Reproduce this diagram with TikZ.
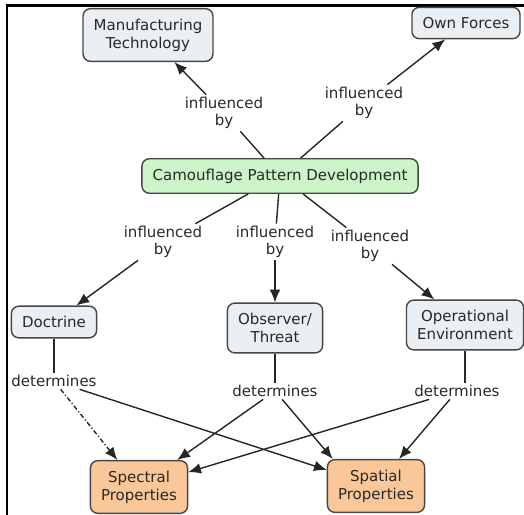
\documentclass[tikz,border=0pt]{standalone}
\usepackage{fontspec}
\setmainfont{DejaVu Sans}
\usepackage{xcolor}
\usepackage{tikz}
\usetikzlibrary{arrows.meta}

\definecolor{conceptfill}{RGB}{234,239,243}
\definecolor{topfill}{RGB}{204,244,200}
\definecolor{propfill}{RGB}{250,200,152}
\definecolor{edgegray}{RGB}{70,70,70}
\definecolor{textgray}{RGB}{40,40,40}

\begin{document}
\begin{tikzpicture}[x=0.03cm,y=-0.03cm,
    concept/.style={draw=edgegray,line width=1.2pt,rounded corners=0.22cm,fill=conceptfill,
        align=center,inner xsep=0.32cm,inner ysep=0.3cm,text=textgray,
        font=\fontsize{12.8}{15.5}\selectfont},
    link/.style={align=center,inner sep=2pt,text=textgray,font=\fontsize{12.8}{14.5}\selectfont},
    line/.style={line width=1.2pt,draw=black!85},
    arr/.style={line,-{Latex[length=3.8mm,width=3.2mm]}}]
    \useasboundingbox (0,0) rectangle (524,515);
    \draw[line width=2.2pt] (7,515) -- (7,5.5) -- (524,5.5);

    \node[concept] (mantech) at (148,35) {Manufacturing\\Technology};
    \node[concept] (ownforces) at (466,23) {Own Forces};
    \node[concept,fill=topfill] (cpd) at (280,176) {Camouflage Pattern Development};
    \node[concept] (doctrine) at (54,322) {Doctrine};
    \node[concept] (observer) at (275,328) {Observer/\\Threat};
    \node[concept] (openv) at (465,325) {Operational\\Environment};
    \node[concept,fill=propfill] (spectral) at (139,487) {Spectral\\Properties};
    \node[concept,fill=propfill] (spatial) at (376,486) {Spatial\\Properties};

    \node[link] (ib1) at (224,113) {influenced\\by};
    \node[link] (ib2) at (364,103) {influenced\\by};
    \node[link] (ib3) at (163,242) {influenced\\by};
    \node[link] (ib4) at (275,242) {influenced\\by};
    \node[link] (ib5) at (370,246) {influenced\\by};
    \node[link] (det1) at (54,381) {determines};
    \node[link] (det2) at (275,391) {determines};
    \node[link] (det3) at (457,391) {determines};

    \draw[line] (cpd) -- (ib1);
    \draw[arr] (ib1) -- (mantech);
    \draw[line] (cpd) -- (ib2);
    \draw[arr] (ib2) -- (ownforces);
    \draw[line] (cpd) -- (ib3);
    \draw[arr] (ib3) -- (doctrine);
    \draw[line] (cpd) -- (ib4);
    \draw[arr] (ib4) -- (observer);
    \draw[line] (cpd) -- (ib5);
    \draw[arr] (ib5) -- (openv);

    \draw[line] (doctrine) -- (det1);
    \draw[arr,dash pattern=on 4pt off 2pt on 1pt off 2pt] (det1) -- (spectral);
    \draw[arr] (det1) -- (spatial);
    \draw[line] (observer) -- (det2);
    \draw[arr] (det2) -- (spectral);
    \draw[arr] (det2) -- (spatial.148);
    \draw[line] (openv) -- (openv |- det3.north);
    \draw[arr] (det3) -- (spectral);
    \draw[arr] (det3) -- (spatial);
\end{tikzpicture}
\end{document}
